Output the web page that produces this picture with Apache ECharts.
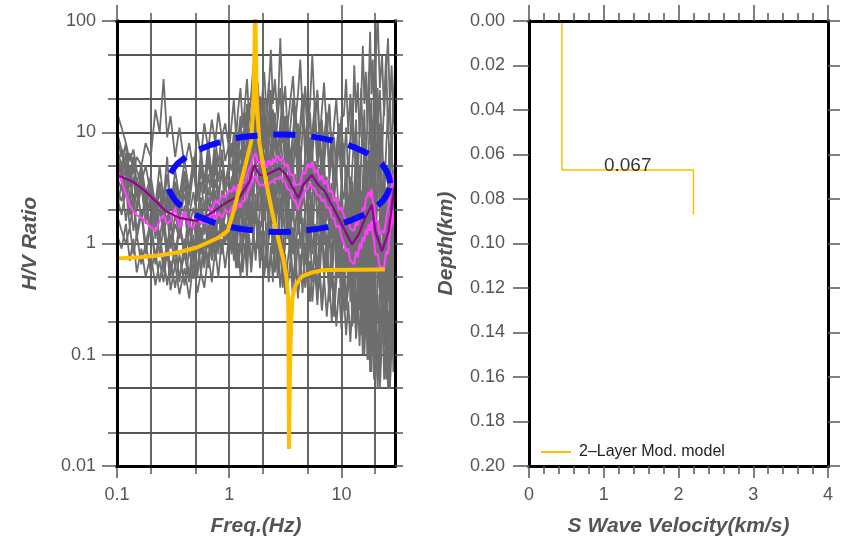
<!DOCTYPE html>
<html><head><meta charset="utf-8">
<script src="https://cdn.jsdelivr.net/npm/echarts@6/dist/echarts.min.js"></script>
<style>html,body{margin:0;padding:0;background:#fff}#c{width:850px;height:542px}</style>
</head><body><div id="c"></div>
<script>
// ---------- DATA ----------
const freq = [
  0.1,0.11,0.12,0.13,0.14,0.15,0.165,0.18,0.2,0.22,0.24,0.26,0.28,0.3,0.33,0.36,0.4,0.44,0.48,0.52,0.56,0.6,0.65,0.7,0.75,0.8,0.86,0.92,1.0,
  1.05,1.1,1.15,1.2,1.26,1.32,1.38,1.44,1.5,1.57,1.64,1.72,1.8,1.88,1.96,2.05,2.15,2.25,2.35,2.45,2.55,2.7,2.85,3.0,3.15,3.3,3.5,3.7,3.9,4.1,4.3,4.5,4.75,5.0,5.25,5.5,5.8,6.1,6.4,6.7,7.0,7.4,7.8,8.2,8.6,9.0,9.5,10,
  10.5,11,11.5,12,12.5,13,13.5,14,14.5,15,15.5,16,16.5,17,17.5,18,18.5,19,19.5,20,21,22,23,24,25,26,27,28,29,30];

const hvGrey1 = [15,11,8,5.5,7,4.5,3.5,5,2.8,2.2,3.6,1.9,2.6,1.5,2.3,1.7,2.8,1.4,2.1,1.2,2.6,1.5,3.2,1.9,3.8,2.4,4.6,2.1,3.0,
  2.2,4.5,2.8,6,3.2,7.5,4,9,5,12,6,8,14,7,10,5,8,12,6,9,4,7,11,5,3.2,6,2.5,4.5,8,3,5.5,2.4,6.5,3.5,9,4,2.6,5,3,7,2.2,4,1.6,3.5,1.3,2.6,1.1,2.2,
  1.0,2.5,0.7,1.8,0.5,1.4,3.5,0.8,2.2,0.4,1.6,4.5,1.0,2.8,0.6,7,1.8,4,0.9,3,12,1.5,0.5,2.5,0.3,1.2,5,0.6,2,0.9];
const hvGrey2 = [9,6,7.5,4,5.5,3,4.2,2.5,3.5,1.6,2.4,1.2,1.8,0.9,1.5,1.1,2.2,0.8,1.6,0.9,1.9,1.2,2.6,1.4,3,1.8,2.4,3.4,2,
  4,1.8,3,1.5,5,2.2,6.5,2.8,8,3.5,10,4.5,3,7,2.2,5,3.5,1.8,4.5,2.5,6,1.9,3.8,1.4,4.2,2,5.5,1.6,3.6,1.2,2.8,4.5,1.7,3.4,1.1,2.4,5,1.5,3,1,2.2,0.8,1.9,0.6,1.6,0.9,2.4,0.7,
  1.8,0.6,1.4,0.4,1,2.6,0.5,1.5,0.3,0.9,2.2,0.4,1.3,0.25,0.8,2,0.35,1.1,0.2,0.7,1.6,0.3,0.9,0.15,0.6,1.4,0.2,0.8,0.12,0.5];
const hvGrey3 = [6,4.5,3,5,2.2,3.5,1.6,2.4,1.1,1.8,0.8,1.4,0.7,1.2,0.6,1.5,0.9,2,0.7,1.3,0.55,1.1,0.7,1.6,0.9,2.2,1.2,1.8,2.6,
  1.5,3.2,1.2,2.6,1,2,4,1.6,3,1.3,2.5,5.5,2,4,1.4,3,1,2.2,4.8,1.5,3.4,0.9,2.6,0.7,1.8,3.8,1.1,2.5,0.8,1.7,3.2,0.9,2.1,0.6,1.5,2.9,0.7,1.6,0.5,1.2,2.4,0.6,1.3,0.4,1.1,2.2,0.5,1.2,
  0.35,0.9,2,0.3,0.8,0.2,0.6,1.5,0.25,0.7,0.15,0.5,1.2,0.2,0.6,0.1,0.45,1,0.15,0.5,0.08,0.35,0.9,0.12,0.4,0.06,0.3,0.8,0.1,0.35];
const hvGrey4 = [3,2.4,4,1.8,2.8,1.3,2,1,1.6,0.75,1.3,0.65,1,0.55,0.9,0.5,0.8,0.45,0.9,0.5,1.1,0.6,1.3,0.7,1.5,0.8,1.9,1,1.6,
  0.9,1.6,0.7,1.3,2.2,0.9,1.7,0.8,1.4,2.4,1.1,2,0.9,1.6,0.7,1.3,0.6,1.1,2,0.8,1.5,0.6,1.2,0.5,1,1.9,0.7,1.4,0.5,1.1,0.45,0.9,1.7,0.6,1.2,0.45,0.9,0.35,0.8,1.5,0.5,1,0.35,0.8,0.3,0.7,1.3,0.4,
  0.9,0.25,0.7,1.6,0.3,0.8,0.2,0.6,1.4,0.25,0.7,0.15,0.5,1.1,0.2,0.55,0.1,0.4,0.9,0.12,0.35,0.07,0.3,0.7,0.09,0.25,0.05,0.2,0.5,0.1];
const hvGrey5 = [5,7,4,6.5,4.5,6,5,8,6,16,10,30,9,14,6,11,5,8,4.5,10,6,12,7,13,8,15,9,12,7,
  12,20,9,16,25,11,18,30,14,22,40,16,28,12,20,35,15,24,55,18,30,13,70,16,26,11,19,32,13,22,45,15,25,10,18,50,14,24,9,16,28,10,18,6,12,20,8,14,
  14,30,10,22,8,40,15,28,9,20,60,18,35,12,26,80,22,45,15,30,120,25,50,14,35,70,18,40,12,28];
const hvGrey6 = [1.2,0.9,1.5,0.7,1.1,0.55,0.9,0.5,0.8,0.42,0.7,0.45,0.9,0.38,0.65,0.35,0.6,0.32,0.7,0.36,0.55,0.4,0.8,0.45,0.9,0.5,1.1,0.6,1.2,
  0.8,1.3,0.6,1,0.5,0.9,1.5,0.7,1.2,0.55,1,0.8,1.4,0.6,1.1,0.5,0.9,0.45,0.8,1.3,0.55,1,0.4,0.75,0.35,0.65,1.1,0.45,0.8,0.35,0.6,1,0.4,0.7,0.3,0.55,0.9,0.32,0.6,0.25,0.5,0.85,0.3,0.55,0.22,0.45,0.75,0.28,
  0.5,0.25,0.4,0.75,0.18,0.35,0.14,0.3,0.6,0.15,0.28,0.1,0.22,0.5,0.09,0.2,0.07,0.18,0.4,0.06,0.16,0.05,0.14,0.35,0.06,0.13,0.05,0.12,0.3,0.08];
const hvGrey7 = [4,3,5.5,2.5,4,2,3.2,1.7,2.7,1.4,2.4,1.7,3,1.3,2.6,1.5,3.4,1.8,2.9,1.6,3.6,2,4.2,2.4,5,2.8,4.4,3,3.8,
  3,5.5,2.6,4.8,7,3.4,6,9,4.2,7.5,12,5,9,16,6.5,11,4.5,8,13,5.5,9.5,4,7,11,4.5,8,3.5,6.5,10,4,7.5,3,5.5,9,3.6,6.5,2.6,5,8,3,5.5,2,4,6.5,2.4,4.5,1.7,3.4,
  1.4,3,1,2.2,0.8,1.8,4,1.2,2.8,0.7,2,5,1.4,3.2,0.8,2.2,6,1.6,3.6,1,2.6,7,1.2,3.2,0.7,2,4.5,1,2.6,1.5];
const hvGrey8 = [2,3.5,1.6,2.8,1.3,2.2,3.6,1.5,2.5,1.1,2,1.4,2.4,1,1.8,1.2,2,0.9,1.6,1,2.1,1.3,1.8,1.1,2.4,1.5,3,1.8,2.6,
  2,3.8,1.6,3,5,2.2,4,1.8,3.2,6,2.5,4.6,8,3.2,5.5,2.4,4.2,7,2.6,4.6,2,3.6,6.2,2.2,4,1.6,3.2,5.5,2,3.8,1.5,2.8,5,1.8,3.4,1.3,2.6,4.4,1.4,2.8,1,2,3.6,1.1,2.2,0.8,1.6,2.8,
  1.2,2.5,0.8,1.8,3.6,1,2.2,0.6,1.6,3,0.7,1.8,0.45,1.3,2.6,0.5,1.5,0.35,1.1,2.4,0.4,1.2,3,0.5,1.4,0.3,1,2,0.4,1.1];
const hvGrey9 = [7,5,8,4,6,3.5,5,2.8,4,2.2,5,2.5,6,2,4.5,2.6,5.5,3,6,2.8,7,3.5,8,4,9,5,10,5.5,8,
  6,10,5,9,14,6.5,11,18,8,13,22,9,16,7,12,20,8,14,24,9,15,6.5,12,19,7,13,5.5,10,17,6,12,22,8,14,5,10,18,6.5,12,4.5,9,15,5,10,3.5,7,12,4.5,
  8,3,6,2,5,10,3,7,2,6,14,4,9,2.5,7,18,5,11,3,8,25,4,10,2.5,7,16,3.5,9,2,6];
const hvGrey10 = [2.6,1.8,3.2,1.4,2.4,1.1,1.9,0.8,1.5,0.65,1.2,0.55,1.1,0.5,1,0.45,1.1,0.5,1.2,0.55,1.4,0.7,1.6,0.8,1.8,1,2.2,1.2,1.8,
  1.2,2.2,1,1.8,3,1.3,2.4,1.1,2,3.6,1.5,2.8,1.2,2.2,4,1.6,2.8,1.1,2.2,3.4,1.3,2.4,0.9,1.8,3,1.1,2,0.8,1.5,2.6,0.9,1.7,0.65,1.3,2.3,0.8,1.5,0.55,1.1,2,0.6,1.2,0.45,0.9,1.6,0.5,1,0.4,
  0.7,1.4,0.4,1,0.3,0.8,1.8,0.4,1.1,0.25,0.7,1.5,0.3,0.9,0.18,0.6,1.3,0.22,0.7,0.12,0.5,1.1,0.15,0.6,0.09,0.4,0.9,0.12,0.5,0.2];
const hvGrey11 = [3.5,5,2.6,4.2,2,3.4,1.6,2.8,1.3,2.2,1.1,1.9,0.9,1.7,0.8,1.5,0.75,1.4,0.7,1.6,0.8,1.8,0.9,2,1.1,2.3,1.3,2.6,1.5,
  3.2,1.6,4,2,5.2,2.4,6.5,3,8,3.8,9.5,4.4,11,5,9,4,7.5,3.4,6.8,3.2,6,2.8,5.5,2.5,5,2.2,4.6,2,4.2,1.8,5,2.2,6,2.6,7,3,5.5,2.4,4.8,2,4,1.6,3.4,1.3,2.8,1.1,2.2,0.9,
  2,0.8,1.6,0.6,1.3,0.5,1.1,2.4,0.7,1.8,0.5,1.5,3.2,0.9,2.4,0.6,2,4,1.1,2.8,0.5,1.6,0.3,1.1,2.5,0.4,1.4,3,0.6,1.8];
const hvGrey12 = [10,7,5,3.5,6,2.6,4.5,2,3.4,1.7,3,1.5,2.8,1.4,3.2,1.8,4,2.2,4.8,2.4,5.5,2.8,6.5,3.2,7,3.6,6,3,5,
  8,4,10,5,13,6,15,7.5,18,9,20,10,17,8,14,7,12,28,9,16,7,13,25,8,14,6,11,20,7,12,5,10,26,8,15,6,12,22,7,13,5,10,17,5.5,9,4,8,13,
  5,11,4,9,20,6,13,4,10,25,7,16,5,12,35,8,20,6,15,45,10,24,7,18,50,9,22,6,16,40];
const hvGrey13 = [1.8,1.3,1,1.4,0.8,1.2,0.65,1,0.55,0.85,0.45,0.75,0.42,0.7,0.4,0.8,0.42,0.9,0.48,1,0.55,1.1,0.6,1.2,0.7,1.3,0.8,1.5,0.9,
  1.6,0.7,1.3,0.6,1.1,0.55,1.0,0.5,1.2,0.6,1.4,0.7,1.6,0.65,1.3,0.55,1.1,0.5,0.95,0.45,1.2,0.5,0.9,0.4,0.8,0.38,0.7,0.33,0.65,0.32,0.8,0.36,0.95,0.4,0.7,0.3,0.6,0.28,0.55,0.25,0.5,0.22,0.45,0.2,0.42,0.18,0.4,0.17,
  0.35,0.15,0.3,0.13,0.28,0.6,0.14,0.35,0.12,0.3,0.1,0.25,0.55,0.09,0.22,0.07,0.2,0.45,0.06,0.18,0.05,0.15,0.4,0.06,0.16,0.05,0.14,0.35,0.07,0.2];
const hvGrey14 = [5.5,4,6.5,3.2,5,2.6,4,2.2,3.6,1.9,3.4,2.2,4.2,2,3.6,2.4,4.5,2.6,5,2.4,4.6,2.8,5.5,3.2,6,3.6,7,3.4,5.5,
  4.5,8,3.8,7,11,5,9,14,6,11,17,7.5,13,21,8,15,6.5,12,19,7,13,5.5,10,16,6,11,4.5,9,14,5,10,18,6,11,4.2,8,13,4.8,9,3.5,7,11,3.8,7,2.8,5.5,9,3.2,
  2.5,5,1.8,4,1.4,3.2,7,2,5,1.2,3.6,8,2.2,5.5,1.5,4,10,2.6,6.5,1.6,4.5,12,2,5.5,1.2,3.5,8,1.8,4.5,2.4];

// mean +/- standard deviation (magenta)
const hvStdUpper = [null,null,null,null,null,null,null,null,null,null,null,null,null,null,null,null,null,null,null,null,null,null,2.1,2.0,2.4,2.3,2.7,2.6,3.0,
  2.9,3.3,2.9,3.4,3.0,3.6,3.5,4.2,4.2,5.2,6.0,6.5,5.2,5.6,4.8,5.6,4.8,5.6,5.0,5.8,5.3,6.2,5.5,5.9,4.9,5.2,4.1,4.2,3.3,3.4,3.4,4.4,4.2,5.2,4.8,5.4,4.3,4.6,3.7,4.1,3.4,3.7,2.9,3.0,2.4,2.6,2.0,2.1,
  1.8,1.6,1.6,1.35,1.35,1.3,1.55,1.45,1.8,1.7,2.1,2.0,2.5,2.4,2.9,2.6,3.1,2.4,2.2,1.6,1.6,1.2,1.3,1.25,1.6,1.6,2.7,3.2,4.2,3.0];
const hvStdLower = [4.6,3.6,2.8,2.2,1.95,1.8,1.7,1.58,1.4,1.29,1.6,1.8,1.5,1.6,2.1,1.38,1.95,1.45,1.4,1.8,1.5,1.55,1.5,1.95,1.6,1.9,1.7,2.0,1.9,
  2.1,2.2,2.0,2.3,2.1,2.4,2.4,2.8,2.9,3.4,3.9,4.0,3.6,3.3,3.4,3.3,3.5,3.4,3.6,3.6,3.8,3.8,4.0,3.7,3.6,3.1,3.0,2.5,2.4,2.0,2.4,2.6,3.0,3.1,3.5,3.2,3.1,2.7,2.7,2.4,2.5,2.1,2.1,1.7,1.7,1.4,1.45,1.15,
  1.0,0.85,0.9,0.7,0.72,0.65,0.85,0.75,1.0,0.9,1.15,1.05,1.35,1.2,1.5,1.3,1.6,1.2,1.1,0.8,0.8,0.6,0.62,0.6,0.85,0.8,1.3,1.5,2.0,1.4];

const meanFreq = [0.1,0.137,0.18,0.222,0.273,0.36,0.507,0.623,0.735,0.875,1.11,1.23,1.51,1.68,1.86,2.14,2.45,2.81,3.23,3.71,4.12,4.56,5.42,6.22,7.13,8.18,9.4,10.8,12.4,14.2,16.3,18.7,20.0,23.0,26.4,29.5,30];
const meanHV = [4.13,3.61,2.94,2.39,1.95,1.70,1.60,1.76,1.95,2.23,2.56,2.56,3.61,5.07,4.13,4.13,4.43,4.74,4.13,3.14,2.56,3.36,4.13,3.36,2.94,2.23,1.70,1.29,0.98,1.20,1.70,2.23,1.29,0.855,1.29,3.14,2.2];

const modelFreq = [0.1,0.162,0.244,0.37,0.504,0.62,0.789,0.969,1.082,1.216,1.386,1.569,1.652,1.703,1.757,1.85,2.01,2.21,2.42,2.63,2.86,3.04,3.24,3.35,3.37,3.41,3.47,3.55,3.66,3.89,4.41,5.42,7.08,12.4,24.4];
const modelHV = [0.735,0.753,0.785,0.843,0.915,1.0,1.12,1.30,1.88,2.95,4.94,8.26,20,150,20,8.26,4.94,2.95,1.88,1.30,0.915,0.715,0.494,0.325,0.177,0.0142,0.063,0.177,0.325,0.419,0.504,0.548,0.577,0.582,0.585];

const ellipseFreq = [27.1,25.1,20.0,13.9,8.71,5.04,2.80,1.55,0.897,0.561,0.391,0.311,0.288,0.311,0.391,0.561,0.897,1.55,2.80,5.04,8.71,13.9,20.0,25.1,27.1];
const ellipseHV = [3.48,4.52,5.76,7.10,8.33,9.21,9.53,9.21,8.33,7.10,5.76,4.52,3.48,2.68,2.11,1.71,1.46,1.32,1.27,1.32,1.46,1.71,2.11,2.68,3.48];

const freqTicks = [0.1,1,10];
const freqMinorTicks = [0.2,0.5,2,5,20];
const hvTicks = [0.01,0.1,1,10,100];
const hvMinorTicks = [0.02,0.05,0.2,0.5,2,5,20,50];

const profileVel = [0.44,0.44,2.2,2.2];
const profileDepth = [0,0.067,0.067,0.087];
const interfaceDepth = 0.067;
const modelName = '2\u2013Layer Mod. model';

// ---------- CHART ----------
function pairs(xs, ys){ const o=[]; for(let i=0;i<xs.length;i++){ if(ys[i]!=null) o.push([xs[i],ys[i]]); } return o; }
const FONT = 'Liberation Sans, Arial, Helvetica, sans-serif';
const TICK = {color:'#555', width:1.5};
const FRAME = {color:'#000', width:3, cap:'square'};
const nameStyle = {fontFamily:FONT, fontSize:21, fontWeight:'bold', fontStyle:'italic', color:'#555'};
const labelStyle = {fontFamily:FONT, fontSize:18, color:'#555'};
const fmtNum = v => String(parseFloat((+v).toPrecision(4)));

function logX(extra){
  return Object.assign({type:'log', logBase:10, gridIndex:0, min:0.1, max:30,
    axisLine:{show:false,onZero:false}, axisTick:{show:false}, axisLabel:{show:false}, splitLine:{show:false}}, extra);
}
function logY(extra){
  return Object.assign({type:'log', logBase:10, gridIndex:0, min:0.01, max:100,
    axisLine:{show:false,onZero:false}, axisTick:{show:false}, axisLabel:{show:false}, splitLine:{show:false}}, extra);
}
function velX(extra){
  return Object.assign({type:'value', gridIndex:1, min:0, max:4, interval:1,
    axisLine:{show:true,onZero:false,lineStyle:FRAME}, splitLine:{show:false}, axisLabel:{show:false}}, extra);
}
function depY(extra){
  return Object.assign({type:'value', gridIndex:1, min:0, max:0.2, interval:0.02, inverse:true,
    axisLine:{show:true,onZero:false,lineStyle:FRAME}, splitLine:{show:false}, axisLabel:{show:false}}, extra);
}
const gridLine = {show:true, lineStyle:{color:'#555', width:1.8}};

const xAxis = [
  logX({position:'bottom', axisTick:{show:true, customValues:freqTicks, length:12, lineStyle:TICK},
        axisLabel:{show:true, customValues:freqTicks, margin:20, formatter:fmtNum, ...labelStyle},
        splitLine:gridLine, name:'Freq.(Hz)', nameLocation:'middle', nameGap:50, nameTextStyle:nameStyle}),
  logX({position:'bottom', axisTick:{show:true, customValues:freqMinorTicks, length:8, lineStyle:TICK}, splitLine:gridLine}),
  logX({position:'top', z:10, axisLine:{show:true,onZero:false,lineStyle:FRAME}, axisTick:{show:true, customValues:freqTicks, length:16, lineStyle:TICK}}),
  logX({position:'top', axisTick:{show:true, customValues:freqMinorTicks, length:8, lineStyle:TICK}}),
  logX({position:'bottom', z:10, axisLine:{show:true,onZero:false,lineStyle:FRAME}}),
  velX({position:'bottom', z:10, axisTick:{show:true,length:12,lineStyle:TICK}, minorTick:{show:true,splitNumber:5,length:8,lineStyle:TICK},
        axisLabel:{show:true, margin:20, ...labelStyle},
        name:'S Wave Velocity(km/s)', nameLocation:'middle', nameGap:50, nameTextStyle:nameStyle}),
  velX({position:'top', z:10, axisTick:{show:true,length:16,lineStyle:TICK}, minorTick:{show:true,splitNumber:5,length:8,lineStyle:TICK}})
];
const yAxis = [
  logY({position:'left', axisTick:{show:true, customValues:hvTicks, length:15, lineStyle:TICK},
        axisLabel:{show:true, customValues:hvTicks, margin:21, formatter:fmtNum, ...labelStyle},
        splitLine:gridLine, name:'H/V Ratio', nameLocation:'middle', nameGap:76, nameTextStyle:nameStyle}),
  logY({position:'left', axisTick:{show:true, customValues:hvMinorTicks, length:9, lineStyle:TICK}, splitLine:gridLine}),
  logY({position:'right', z:10, axisLine:{show:true,onZero:false,lineStyle:FRAME}, axisTick:{show:true, customValues:hvTicks.concat(hvMinorTicks), length:8, lineStyle:TICK}}),
  logY({position:'left', z:10, axisLine:{show:true,onZero:false,lineStyle:FRAME}}),
  depY({position:'left', z:10, axisTick:{show:true,length:16,lineStyle:TICK},
        axisLabel:{show:true, margin:24, formatter:v=>(+v).toFixed(2), ...labelStyle},
        name:'Depth(km)', nameLocation:'middle', nameGap:72, nameTextStyle:nameStyle}),
  depY({position:'right', z:10, axisTick:{show:true,length:12,lineStyle:TICK}})
];

const greys = [hvGrey1,hvGrey2,hvGrey3,hvGrey4,hvGrey5,hvGrey6,hvGrey7,hvGrey8,hvGrey9,hvGrey10,hvGrey11,hvGrey12,hvGrey13,hvGrey14];
const series = [];
greys.forEach((g,i)=>series.push({type:'line', name:'grey'+i, xAxisIndex:0, yAxisIndex:0, data:pairs(freq,g),
  symbol:'none', silent:true, z:2, lineStyle:{color:'#6e6e6e', width:1.8}}));
series.push({type:'line', xAxisIndex:0, yAxisIndex:0, data:pairs(freq,hvStdUpper), symbol:'none', z:3, lineStyle:{color:'#ff40ff', width:2.2}});
series.push({type:'line', xAxisIndex:0, yAxisIndex:0, data:pairs(freq,hvStdLower), symbol:'none', z:3, lineStyle:{color:'#ff40ff', width:2.2}});
series.push({type:'line', xAxisIndex:0, yAxisIndex:0, data:pairs(meanFreq,meanHV), symbol:'none', z:4, lineStyle:{color:'#990099', width:2.2}});
series.push({type:'line', xAxisIndex:0, yAxisIndex:0, data:pairs(modelFreq,modelHV), symbol:'none', z:5, lineStyle:{color:'#ffbf00', width:4}});
series.push({type:'line', xAxisIndex:0, yAxisIndex:0, data:pairs(ellipseFreq,ellipseHV), symbol:'none', smooth:true, z:6,
  lineStyle:{color:'#0a0aff', width:6, type:[22,16]}});
series.push({type:'line', name:modelName, xAxisIndex:5, yAxisIndex:4, data:pairs(profileVel,profileDepth), symbol:'none', z:5,
  lineStyle:{color:'#ffbf00', width:1.5}, itemStyle:{color:'#ffbf00'}});
series.push({type:'scatter', xAxisIndex:5, yAxisIndex:4, symbolSize:0, z:6,
  data:[[(profileVel[1]+profileVel[2])/2, interfaceDepth]],
  label:{show:true, position:'top', distance:0, offset:[0,5], formatter:()=>String(interfaceDepth), fontFamily:FONT, fontSize:19, color:'#000'}});

const chart = echarts.init(document.getElementById('c'), null, {renderer:'canvas'});
chart.setOption({
  animation:false,
  backgroundColor:'#fff',
  grid:[{left:117, top:21, right:455, bottom:74}, {left:529, top:21, right:22, bottom:74}],
  legend:{data:[{name:modelName, icon:'rect'}], left:536, top:439, itemWidth:30, itemHeight:2, itemGap:5,
    itemStyle:{color:'#ffbf00'},
    textStyle:{fontFamily:FONT, fontSize:16, color:'#222', padding:[0,0,0,3]}},
  xAxis, yAxis, series
});
</script></body></html>
